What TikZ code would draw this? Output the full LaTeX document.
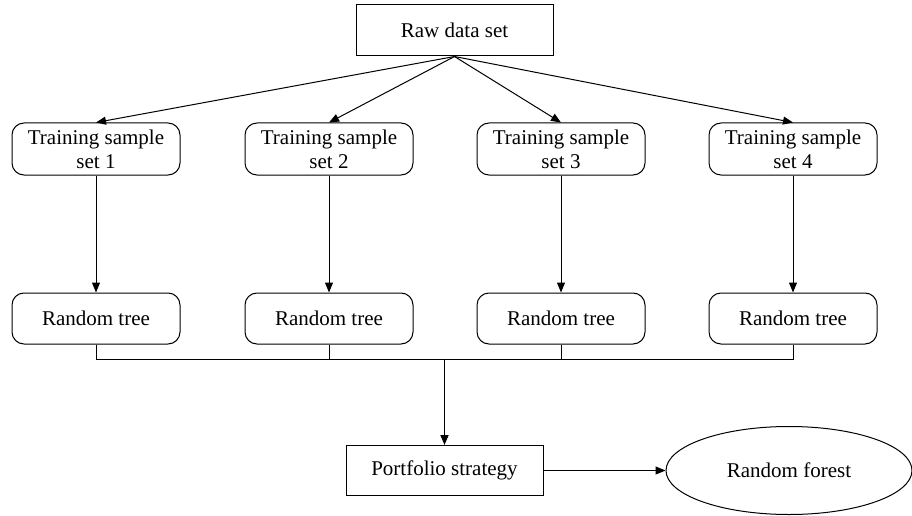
\documentclass[tikz,border=0pt]{standalone}
\usepackage{fontspec}
\setmainfont{Liberation Serif}
\usetikzlibrary{arrows.meta,shapes.geometric}

\begin{document}
\begin{tikzpicture}[x=1pt,y=1pt,
  every node/.style={font=\fontsize{21}{24}\selectfont},
  rawbox/.style={draw,line width=1pt,minimum width=197pt,minimum height=51pt,inner sep=0pt},
  samplebox/.style={draw,line width=1pt,rounded corners=12pt,minimum width=168pt,minimum height=52pt,inner sep=0pt,align=center},
  treebox/.style={draw,line width=1pt,rounded corners=12pt,minimum width=168pt,minimum height=51pt,inner sep=0pt},
  forestnode/.style={draw,line width=1pt,ellipse,minimum width=246pt,minimum height=88pt,inner sep=0pt},
  link/.style={line width=1pt,-{Triangle[length=10pt,width=8pt]}},
  bus/.style={line width=1pt}]
\useasboundingbox (0.000000,0.000000) rectangle (912.000000,515.000000);
% Drawing boxes
\node[rawbox] (raw) at (454.500000,484.500000) {Raw data set};
\node[samplebox] (set1) at (96.000000,366.000000) {Training sample\\set 1};
\node[samplebox] (set2) at (329.000000,366.000000) {Training sample\\set 2};
\node[samplebox] (set3) at (561.000000,366.000000) {Training sample\\set 3};
\node[samplebox] (set4) at (793.000000,366.000000) {Training sample\\set 4};
\node[treebox] (tree1) at (96.000000,196.500000) {Random tree};
\node[treebox] (tree2) at (329.000000,196.500000) {Random tree};
\node[treebox] (tree3) at (561.000000,196.500000) {Random tree};
\node[treebox] (tree4) at (793.000000,196.500000) {Random tree};
\node[rawbox,minimum height=50pt] (port) at (444.500000,44.500000) {Portfolio strategy};
\node[forestnode] (forest) at (789.000000,44.500000) {Random forest};
% Done with boxes; drawing arrows
\foreach \i in {1,2,3,4} {
  \draw[link] (raw.south) -- (set\i.north);
  \draw[link] (set\i.south) -- (tree\i.north);
}
% Line: collecting the trees
\coordinate (joint) at (444.500000,156.000000);
\draw[bus] (tree1.south) -- (tree1.south |- joint) -- (tree4.south |- joint) -- (tree4.south);
\draw[bus] (tree2.south) -- (tree2.south |- joint);
\draw[bus] (tree3.south) -- (tree3.south |- joint);
\draw[link,line width=1.6pt] (joint) -- (port.north);
\draw[link] (port.east) -- (forest.west);
% Done with arrows
\end{tikzpicture}
\end{document}
